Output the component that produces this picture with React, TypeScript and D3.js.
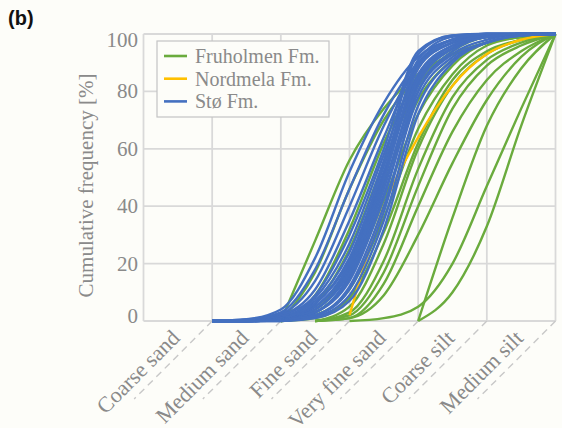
import React from "react";
import * as d3 from "d3";

const categories = ["Coarse sand", "Medium sand", "Fine sand", "Very fine sand", "Coarse silt", "Medium silt"];
const sievePositions = [1, 1.5, 2, 2.5, 3, 3.5, 4, 4.5, 5, 5.5, 6];
const yTicks = [0, 20, 40, 60, 80, 100];
const seriesNames = ["Fruholmen Fm.", "Nordmela Fm.", "Stø Fm."];
const seriesColors = ["#6aab3d", "#ffc000", "#4470c0"];

type V = number | null;
const n = null;

// Fruholmen Fm. (green)
const fruholmenCurves: V[][] = [
  [n, n, 0, 28, 56, 74, 86, 93, 97, 99, 100],
  [n, n, 0, 17, 46, 70, 85, 93, 97, 99, 100],
  [n, n, 0, 9, 32, 62, 85, 95, 99, 100, 100],
  [n, n, 0, 6, 25, 55, 82, 94, 99, 100, 100],
  [n, n, 0, 4, 19, 48, 77, 91, 97, 99, 100],
  [n, n, 0, 3, 15, 42, 72, 89, 97, 99, 100],
  [n, n, 0, 2, 11, 36, 67, 86, 96, 99, 100],
  [n, n, 0, 1, 8, 31, 62, 84, 94, 98, 100],
  [n, n, n, 0, 5, 27, 60, 82, 93, 98, 100],
  [n, n, n, 0, 3, 21, 53, 78, 91, 97, 100],
  [n, n, n, 0, 2, 17, 47, 74, 89, 96, 100],
  [n, n, n, 0, 1, 13, 40, 66, 84, 94, 100],
  [n, n, n, 0, 1, 9, 30, 55, 77, 92, 100],
  [n, n, n, n, 0, 1, 5, 20, 47, 74, 100],
  [n, n, n, n, n, n, 0, 36, 68, 88, 100],
  [n, n, n, n, n, n, 0, 10, 33, 68, 100],
];

// Nordmela Fm. (orange)
const nordmelaCurves: V[][] = [
  [n, n, n, n, 2, 40, 64, 82, 93, 98, 100],
];

// Stø Fm. (blue)
const stoCurves: V[][] = [
  [0, 0.6, 4, 22, 52, 76, 92, 98, 100, 100, 100],
  [0, 0.5, 3, 18, 46, 72, 90, 97, 99.5, 100, 100],
  [0, 0.4, 2.5, 14, 40, 68, 89, 97, 100, 100, 100],
  [0, 0.3, 2, 11, 35, 64, 90, 98, 100, 100, 100],
  [0, 0.2, 2, 9, 30, 60, 94, 99.5, 100, 100, 100],
  [0, 0, 1.5, 8, 27, 58, 88, 97, 99.5, 100, 100],
  [0, 0, 1.5, 7, 24, 56, 93, 99.5, 100, 100, 100],
  [0, 0, 1, 6, 22, 54, 89, 98, 100, 100, 100],
  [0, 0, 1, 6, 21, 52, 86, 96, 99, 100, 100],
  [0, 0, 1, 5, 20, 51, 91, 99, 100, 100, 100],
  [0, 0, 0.5, 5, 19, 50, 85, 95, 99, 100, 100],
  [0, 0, 0.5, 4, 18, 49, 88, 98, 100, 100, 100],
  [0, 0, 0.5, 4, 17, 47, 83, 95, 99, 100, 100],
  [0, 0, 0.5, 3, 16, 46, 84, 96, 99.5, 100, 100],
  [0, 0, 0.3, 3, 15, 44, 80, 93, 98, 100, 100],
  [0, 0, 0.3, 3, 14, 43, 82, 95, 99, 100, 100],
  [0, 0, 0.2, 2, 12, 40, 78, 92, 97, 99.5, 100],
  [0, 0, 0.2, 2, 11, 38, 80, 94, 99, 100, 100],
  [0, 0, 0, 1.5, 9, 35, 75, 91, 97, 99.5, 100],
  [0, 0, 0, 1, 7, 32, 72, 90, 97, 99.5, 100],
];

const allSeries = [fruholmenCurves, nordmelaCurves, stoCurves];

export default function App() {
  const W = 562;
  const H = 428;
  const left = 143.5, right = 555.5, top = 34, bottom = 321;
  const x = d3.scaleLinear().domain([0, categories.length]).range([left, right]);
  const y = d3.scaleLinear().domain([0, 100]).range([bottom, top]);
  const line = d3
    .line<[number, V]>()
    .defined((d) => d[1] !== null)
    .x((d) => x(d[0]))
    .y((d) => y(d[1] as number))
    .curve(d3.curveMonotoneX);

  const textColor = "#8a8a8a";
  const gridColor = "#d9d9d9";
  const serif = { fontFamily: '"Liberation Serif", "Times New Roman", "DejaVu Serif", serif' };
  const boundaries = d3.range(0, categories.length + 1);
  const drawOrder = [0, 1, 2];

  return (
    <svg width={W} height={H} style={{ position: "absolute", left: 0, top: 0, background: "#fdfdf9" }}>
      <rect x={0} y={0} width={W} height={H} fill="#fdfdf9" />
      <text x={8} y={25} style={{ fontFamily: '"Liberation Sans", Arial, sans-serif' }} fontWeight="bold" fontSize={20} fill="#111">(b)</text>

      {/* gridlines */}
      {boundaries.map((b) => (
        <line key={"vx" + b} x1={x(b)} x2={x(b)} y1={top} y2={bottom} stroke={gridColor} strokeWidth={1.8} />
      ))}
      {yTicks.map((t) => (
        <line key={"hy" + t} x1={left} x2={right} y1={y(t)} y2={y(t)} stroke={gridColor} strokeWidth={1.8} />
      ))}

      {/* y tick labels */}
      {yTicks.map((t) => (
        <text key={"yl" + t} x={138} y={Math.min(Math.max(y(t), 40), 316)} textAnchor="end" dominantBaseline="central"
          style={serif} fontSize={21} fill={textColor}>{t}</text>
      ))}
      <text transform={`translate(86,${(top + bottom) / 2 + 8}) rotate(-90)`} textAnchor="middle" dominantBaseline="central"
        style={serif} fontSize={21} fill={textColor}>Cumulative frequency [%]</text>

      {/* dashed diagonal category separators */}
      {boundaries.slice(1).map((b) => (
        <line key={"dd" + b} x1={x(b)} y1={bottom} x2={x(b) - 78} y2={bottom + 78} stroke="#c8c8c8" strokeWidth={1.4} strokeDasharray="7 5" />
      ))}

      {/* category labels */}
      {categories.map((c, i) => (
        <text key={c} transform={`translate(${x(i + 0.5) - 2},${bottom + 13}) rotate(-45)`} textAnchor="end" dominantBaseline="central"
          style={serif} fontSize={22} fill={textColor}>{c}</text>
      ))}

      {/* curves */}
      {drawOrder.map((si) =>
        allSeries[si].map((vals, k) => (
          <path key={si + "-" + k}
            d={line(sievePositions.map((p, j) => [p, vals[j]] as [number, V])) || ""}
            fill="none" stroke={seriesColors[si]} strokeWidth={2.4} />
        ))
      )}

      {/* legend */}
      <rect x={157} y={41} width={172} height={76} fill="#fdfdf9" stroke="#c4c4c4" strokeWidth={1.2} />
      {seriesNames.map((s, i) => (
        <g key={s}>
          <line x1={164} x2={187} y1={56 + i * 22.7} y2={56 + i * 22.7} stroke={seriesColors[i]} strokeWidth={2.6} />
          <text x={195} y={56 + i * 22.7} dominantBaseline="central" style={serif} fontSize={20} fill={textColor}>{s}</text>
        </g>
      ))}
    </svg>
  );
}
